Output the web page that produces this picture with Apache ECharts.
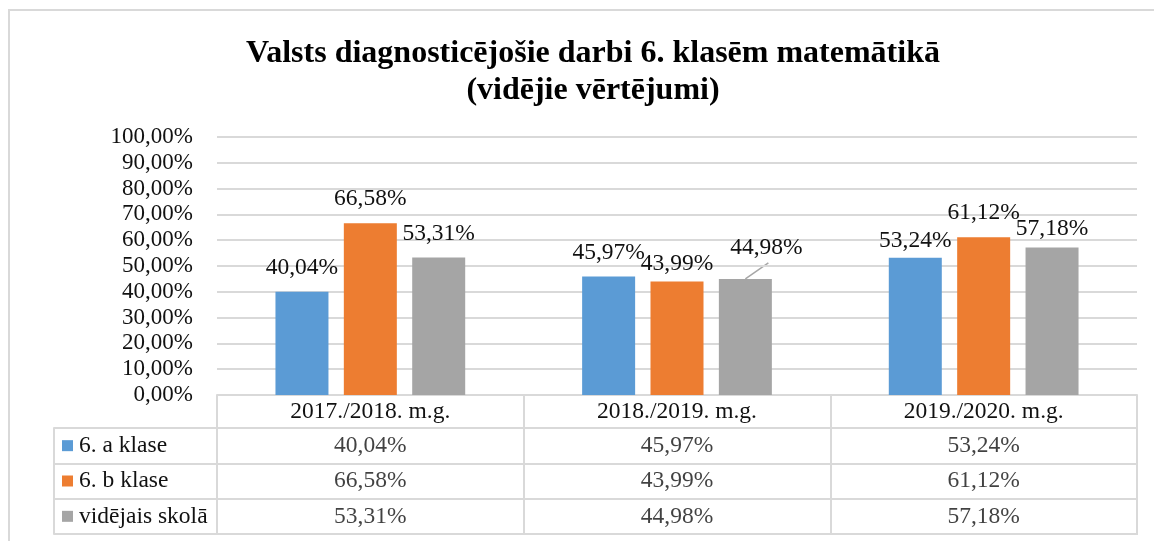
<!DOCTYPE html>
<html>
<head>
<meta charset="utf-8">
<script src="https://cdn.jsdelivr.net/npm/echarts@6/dist/echarts.min.js"></script>
<style>
  html, body { margin: 0; padding: 0; background: #fff; }
  #chart { width: 1154px; height: 541px; }
</style>
</head>
<body>
<div id="chart"></div>
<script>
const categories = ['2017./2018. m.g.', '2018./2019. m.g.', '2019./2020. m.g.']
const seriesNames = ['6. a klase', '6. b klase', 'vidējais skolā']
const classA = [40.04, 45.97, 53.24]
const classB = [66.58, 43.99, 61.12]
const schoolAvg = [53.31, 44.98, 57.18]
const colors = ['#5B9BD5', '#ED7D31', '#A5A5A5']

const serif = "'Liberation Serif', 'Times New Roman', serif"
const lineGray = '#d9d9d9'
const textColor = '#111'
const fs = 23.5

// label nudges (seriesIndex-dataIndex -> [dx, dy]) like excel put them
const labelShift = {
  '1-1': [0, 6],
  '0-2': [0, 7],
  '2-2': [0, 5],
  '2-1': [21, -7],
}
const guideKey = '2-1'

const fmt = v => v.toFixed(2).replace('.', ',') + '%'

const allValues = [classA, classB, schoolAvg]

let chart = echarts.init(document.getElementById('chart'))

let barSeries = allValues.map((vals, s) => ({
  name: seriesNames[s],
  type: 'bar',
  xAxisIndex: 0,
  yAxisIndex: 0,
  barWidth: 53,
  barGap: '29%',
  itemStyle: { color: colors[s] },
  data: vals,
  label: {
    show: true,
    position: 'top',
    distance: 12,
    fontFamily: serif,
    fontSize: fs,
    color: textColor,
    formatter: p => fmt(p.value),
  },
}))

let tableData = []
allValues.forEach((vals, s) => {
  vals.forEach((v, i) => tableData.push([i, s, v]))
})

let rich = { t: { fontFamily: serif, fontSize: fs, color: textColor, padding: [0, 0, 0, 6] } }
colors.forEach((c, i) => {
  rich['s' + i] = { width: 11, height: 11, backgroundColor: c }
})

let frame = {
  id: 'frame',
  type: 'rect',
  silent: true,
  shape: { x: 9, y: 10, width: 1300, height: 700 },
  style: { fill: 'none', stroke: lineGray, lineWidth: 2 },
}

let guide = null

chart.setOption({
  animation: false,
  title: {
    text: 'Valsts diagnosticējošie darbi 6. klasēm matemātikā\n(vidējie vērtējumi)',
    left: 588,
    top: 30,
    textAlign: 'center',
    textStyle: {
      fontFamily: serif,
      fontWeight: 'bold',
      fontSize: 32,
      lineHeight: 37,
      color: '#000',
    },
  },
  graphic: [frame],
  grid: [
    { left: 217, right: 17, top: 137, bottom: 146 },
    { left: 217, right: 17, top: 428, bottom: 7, show: true, borderColor: lineGray, borderWidth: 2 },
  ],
  xAxis: [
    {
      gridIndex: 0,
      type: 'category',
      data: categories,
      axisLine: { lineStyle: { color: lineGray, width: 2 } },
      axisTick: { show: true, length: 33, lineStyle: { color: lineGray, width: 2 } },
      axisLabel: { fontFamily: serif, fontSize: fs, color: textColor, margin: 5 },
    },
    {
      gridIndex: 1,
      type: 'category',
      data: categories,
      axisLine: { show: false },
      axisTick: { show: false },
      axisLabel: { show: false },
      splitLine: { show: true, lineStyle: { color: lineGray, width: 2 } },
    },
  ],
  yAxis: [
    {
      gridIndex: 0,
      type: 'value',
      min: 0,
      max: 100,
      interval: 10,
      axisLine: { show: false },
      axisTick: { show: false },
      splitLine: { lineStyle: { color: lineGray, width: 2 } },
      axisLabel: {
        fontFamily: serif,
        fontSize: 23,
        color: textColor,
        margin: 24,
        formatter: v => fmt(v),
      },
    },
    {
      gridIndex: 1,
      type: 'category',
      inverse: true,
      data: seriesNames,
      axisLine: { show: true, lineStyle: { color: lineGray, width: 2 } },
      axisTick: { show: true, length: 163, lineStyle: { color: lineGray, width: 2 } },
      splitLine: { show: true, lineStyle: { color: lineGray, width: 2 } },
      axisLabel: {
        align: 'left',
        margin: 155,
        formatter: (v, i) => '{s' + i + '|}{t|' + v + '}',
        rich: rich,
      },
    },
    {
      gridIndex: 1,
      type: 'category',
      inverse: true,
      data: seriesNames,
      position: 'left',
      offset: 163,
      axisLine: { show: true, lineStyle: { color: lineGray, width: 2 } },
      axisTick: { show: false },
      axisLabel: { show: false },
    },
  ],
  series: [
    ...barSeries,
    {
      type: 'scatter',
      xAxisIndex: 1,
      yAxisIndex: 1,
      symbolSize: 1,
      itemStyle: { color: 'transparent' },
      data: tableData,
      label: {
        show: true,
        position: 'inside',
        fontFamily: serif,
        fontSize: fs,
        color: textColor,
        formatter: p => fmt(p.value[2]),
      },
    },
  ],
  labelLayout: p => {
    let key = p.seriesIndex + '-' + p.dataIndex
    if (p.seriesIndex > 2 || !labelShift[key]) return {}
    let [dx, dy] = labelShift[key]
    if (key === guideKey) {
      // remember where bar top and moved label are, for the guide line
      let r = p.rect
      let l = p.labelRect
      guide = {
        x1: r.x + r.width / 2,
        y1: r.y,
        x2: l.x + l.width / 2 + dx + 2,
        y2: l.y + l.height + dy + 3,
      }
    }
    return { dx: dx, dy: dy }
  },
})

if (guide) {
  chart.setOption({
    graphic: [
      frame,
      {
        id: 'guide',
        type: 'line',
        silent: true,
        shape: guide,
        style: { stroke: '#a6a6a6', lineWidth: 1.5 },
      },
    ],
  })
}
</script>
</body>
</html>
